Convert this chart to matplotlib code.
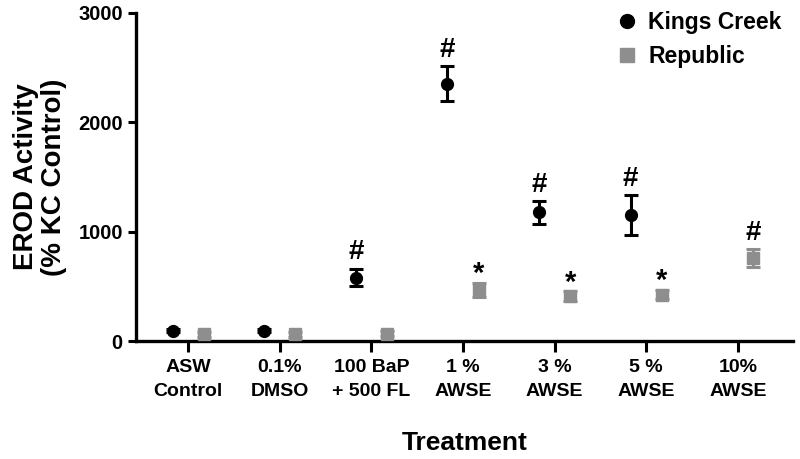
import numpy as np
import matplotlib
matplotlib.use('Agg')
import matplotlib.pyplot as plt
from matplotlib.lines import Line2D

plt.rcParams['font.family'] = ['Liberation Sans', 'DejaVu Sans']
plt.rcParams['font.weight'] = 'bold'

# data
treatments = ['ASW\nControl', '0.1%\nDMSO', '100 BaP\n+ 500 FL', '1 %\nAWSE',
              '3 %\nAWSE', '5 %\nAWSE', '10%\nAWSE']
kc_mean = [95, 95, 580, 2350, 1175, 1150, np.nan]
kc_err = [15, 15, 80, 160, 105, 185, np.nan]
rep_mean = [62, 62, 68, 470, 415, 425, 760]
rep_err = [22, 22, 25, 65, 45, 45, 80]
# significance marks by index
kc_marks = {2: '#', 3: '#', 4: '#', 5: '#'}
rep_marks = {3: '*', 4: '*', 5: '*', 6: '#'}

gray = '#8e8e8e'
off = 0.17
x = np.arange(len(treatments))

fig = plt.figure(figsize=(8, 4.59), dpi=100)
ax = fig.add_axes([0.17, 0.257, 0.821, 0.715])

ax.errorbar(x - off, kc_mean, yerr=kc_err, fmt='o', color='black', ms=8.5,
            elinewidth=2.2, capsize=5, capthick=2.2, zorder=3)
ax.errorbar(x + off, rep_mean, yerr=rep_err, fmt='s', color=gray, ms=8,
            elinewidth=2.2, capsize=5, capthick=2.2, zorder=3)

for i, s in kc_marks.items():
    ax.text(x[i] - off, kc_mean[i] + kc_err[i] + 150, s, ha='center', va='center',
            fontsize=20, fontweight='bold')
for i, s in rep_marks.items():
    if s == '*':
        ax.text(x[i] + off, rep_mean[i] + rep_err[i] + 75, s, ha='center', va='center',
                fontsize=21, fontweight='bold')
    else:
        ax.text(x[i] + off, rep_mean[i] + rep_err[i] + 150, s, ha='center', va='center',
                fontsize=20, fontweight='bold')

ax.set_xlim(-0.57, 6.6)
ax.set_ylim(0, 3000)
ax.set_yticks([0, 1000, 2000, 3000])
ax.set_xticks(x)
ax.set_xticklabels(treatments, fontsize=14, fontweight='bold', linespacing=1.55)
ax.tick_params(axis='y', labelsize=14.5, width=2.2, length=6, direction='out')
ax.tick_params(axis='x', width=2.2, length=8, direction='out', pad=5)
for lab in ax.get_yticklabels():
    lab.set_fontweight('bold')

for side in ['top', 'right']:
    ax.spines[side].set_visible(False)
for side in ['left', 'bottom']:
    ax.spines[side].set_linewidth(2.4)

ax.set_ylabel('EROD Activity\n(% KC Control)', fontsize=20, fontweight='bold',
              labelpad=8, linespacing=1.1)
ax.set_xlabel('Treatment', fontsize=19, fontweight='bold', labelpad=22)

handles = [Line2D([], [], marker='o', color='black', ls='none', ms=10),
           Line2D([], [], marker='s', color=gray, ls='none', ms=10)]
fig.legend(handles, ['Kings Creek', 'Republic'], loc='upper left',
           bbox_to_anchor=(0.77, 0.975), frameon=False,
           prop={'weight': 'bold', 'size': 16.5}, handlelength=1.0,
           handletextpad=0.4, labelspacing=0.45, borderpad=0, borderaxespad=0)

fig.savefig('out.png', dpi=100)
